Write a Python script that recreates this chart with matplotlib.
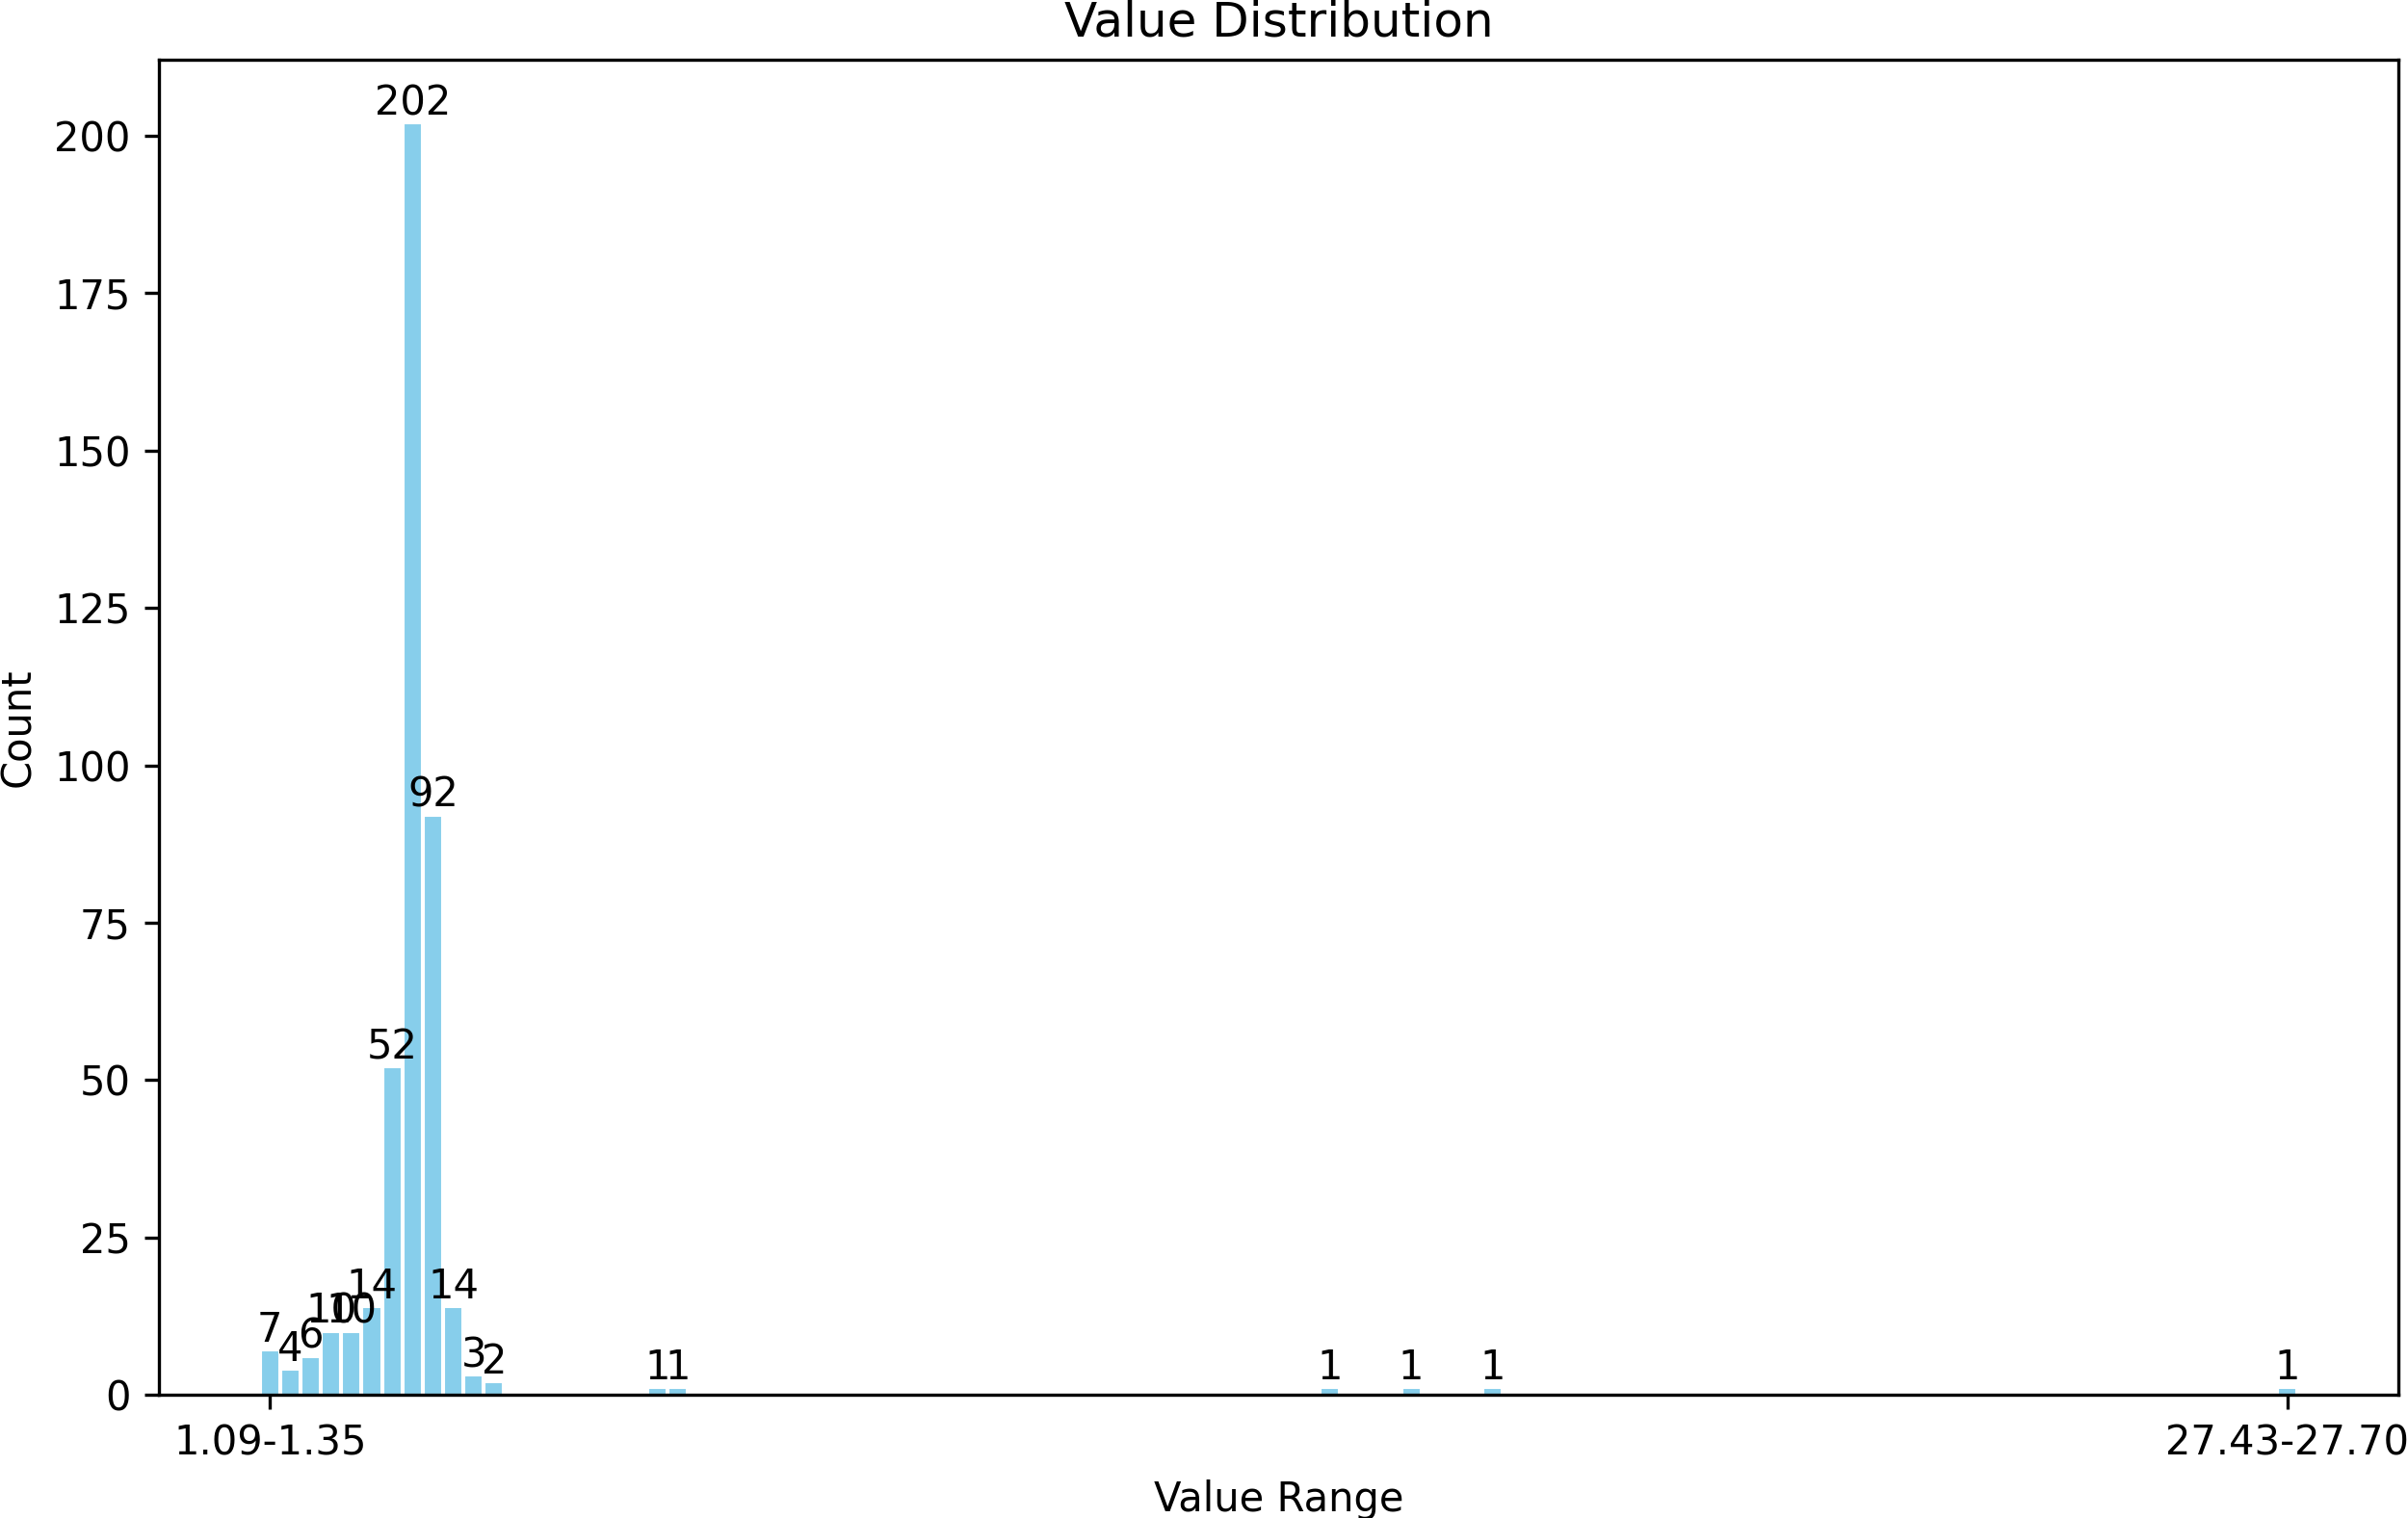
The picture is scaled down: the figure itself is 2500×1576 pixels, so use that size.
import numpy as np
import matplotlib
matplotlib.use("Agg")
import matplotlib.pyplot as plt

# 100 equal-width bins between 1.09 and 27.70, only non-empty bins listed
n_bins = 100
bin_index = [0, 1, 2, 3, 4, 5, 6, 7, 8, 9, 10, 11, 19, 20, 52, 56, 60, 99]
bin_count = [7, 4, 6, 10, 10, 14, 52, 202, 92, 14, 3, 2, 1, 1, 1, 1, 1, 1]
tick_positions = [0, 99]
tick_labels = ["1.09-1.35", "27.43-27.70"]

counts = np.zeros(n_bins, dtype=int)
counts[bin_index] = bin_count

fig = plt.figure(figsize=(2500 / 300, 1576 / 300), dpi=300)
ax = fig.add_axes([165 / 2500, 128 / 1576, 2325 / 2500, 1386 / 1576])

bars = ax.bar(range(n_bins), counts, width=0.9, color="skyblue", edgecolor="white", linewidth=0.5)

# label the non-empty bars with their count
for b, c in zip(bars, counts):
    if c > 0:
        ax.text(b.get_x() + b.get_width() / 2, c, str(c), ha="center", va="bottom")

ax.set_xticks(tick_positions)
ax.set_xticklabels(tick_labels)
ax.set_xlabel("Value Range")
ax.set_ylabel("Count")
ax.set_title("Value Distribution")

fig.savefig("out.png", dpi=300)
